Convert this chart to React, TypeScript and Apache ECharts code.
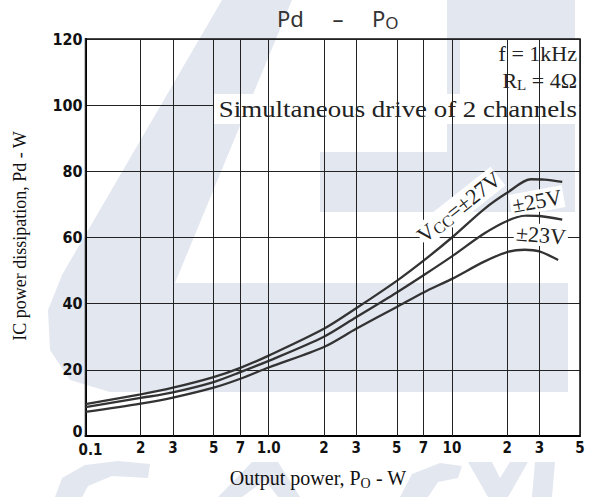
import React, { useEffect, useRef } from "react";
import * as echarts from "echarts";

// ---- data ----
const X_MIN = 0.1;
const X_MAX = 50;
const Y_MIN = 0;
const Y_MAX = 120;
const Y_STEP = 20;
const X_TICKS = [0.1, 0.2, 0.3, 0.5, 0.7, 1, 2, 3, 5, 7, 10, 20, 30, 50];
const X_TICK_LABELS = ["0.1", "2", "3", "5", "7", "1.0", "2", "3", "5", "7", "10", "2", "3", "5"];

const PO_27 = [0.1, 0.2, 0.3, 0.5, 0.7, 1, 2, 3, 5, 7, 10, 15, 20, 27, 32, 40];
const PD_27 = [9.6, 12.6, 14.6, 17.8, 20.6, 24.3, 32.4, 38.6, 46.9, 53.0, 60.0, 68.6, 73.5, 77.6, 77.5, 76.8];
const PO_25 = [0.1, 0.2, 0.3, 0.5, 0.7, 1, 2, 3, 5, 7, 10, 15, 20, 25, 30, 40];
const PD_25 = [8.7, 11.5, 13.2, 16.3, 19.3, 22.7, 30.0, 35.9, 43.4, 48.6, 54.3, 61.2, 65.0, 66.6, 66.5, 65.4];
const PO_23 = [0.1, 0.2, 0.3, 0.5, 0.7, 1, 2, 3, 5, 7, 10, 15, 20, 25, 30, 38];
const PD_23 = [7.3, 9.8, 11.6, 14.6, 17.3, 20.7, 26.9, 32.4, 39.0, 43.4, 47.5, 52.7, 55.6, 56.3, 55.8, 53.2];

const zip = (xs: number[], ys: number[]) => xs.map((x, i) => [x, ys[i]]);

const WM = "#e3e7f0";
const SERIF = "'Liberation Serif', 'Times New Roman', serif";
const LBL = "'DejaVu Sans Condensed', 'Liberation Sans Narrow', 'DejaVu Sans', sans-serif";

export default function App() {
  const ref = useRef<HTMLDivElement>(null);
  useEffect(() => {
    if (!ref.current) return;
    const chart = echarts.init(ref.current, undefined, { renderer: "svg" });
    const curve = (name: string, xs: number[], ys: number[]) => ({
      name,
      type: "line",
      data: zip(xs, ys),
      smooth: 0.3,
      symbol: "none",
      z: 3,
      lineStyle: { color: "#333", width: 2.3 },
    });
    chart.setOption({
      animation: false,
      backgroundColor: "#fff",
      grid: { left: 85.5, right: 9, top: 39, bottom: 61, show: true, borderColor: "#111", borderWidth: 1.5 },
      xAxis: {
        type: "log",
        logBase: 10,
        min: X_MIN,
        max: X_MAX,
        axisLabel: { show: false },
        axisTick: { show: false },
        splitLine: { show: false },
        axisLine: { show: true, lineStyle: { color: "#000", width: 2 } },
      },
      yAxis: {
        type: "value",
        min: Y_MIN,
        max: Y_MAX,
        interval: Y_STEP,
        axisLabel: {
          fontFamily: LBL,
          fontWeight: "bold",
          fontSize: 16,
          color: "#111",
          margin: 3,
          formatter: (v: number) => (v === 0 ? "{z|0}" : String(v)),
          rich: { z: { fontFamily: LBL, fontWeight: "bold", fontSize: 16, color: "#111", padding: [0, 0, 9, 0] } },
        },
        axisTick: { show: false },
        axisLine: { show: true, lineStyle: { color: "#000", width: 2 } },
        splitLine: { lineStyle: { color: "#222", width: 1 } },
      },
      series: [
        {
          type: "line",
          data: [],
          z: 1,
          markLine: {
            silent: true,
            symbol: "none",
            lineStyle: { type: "solid", color: "#222", width: 1 },
            label: {
              show: true,
              position: "start",
              formatter: "{b}",
              distance: 4,
              fontFamily: LBL,
              fontWeight: "bold",
              fontSize: 15,
              color: "#111",
            },
            data: X_TICKS.map((v, i) =>
              i === 0
                ? { xAxis: v, name: X_TICK_LABELS[i], label: { offset: [5, 2] } }
                : { xAxis: v, name: X_TICK_LABELS[i] }
            ),
          },
        },
        curve("±27V", PO_27, PD_27),
        curve("±25V", PO_25, PD_25),
        curve("±23V", PO_23, PD_23),
      ],
      graphic: [
        // watermark
        { type: "polygon", z: -5, silent: true, shape: { points: [[222, 0], [292, 0], [175, 283], [568, 283], [568, 392], [110, 392], [70, 380], [50, 350], [48, 310], [62, 275]] }, style: { fill: WM } },
        { type: "polygon", z: -5, silent: true, shape: { points: [[447, 0], [575, 0], [575, 212], [320, 212], [320, 152], [447, 152]] }, style: { fill: WM } },
        { type: "polygon", z: -5, silent: true, shape: { points: [[55, 497], [62, 478], [85, 465], [118, 461], [150, 464], [148, 478], [112, 476], [88, 486], [82, 497]] }, style: { fill: WM } },
        { type: "polygon", z: -5, silent: true, shape: { points: [[218, 497], [252, 462], [278, 462], [300, 497], [278, 497], [265, 480], [242, 497]] }, style: { fill: WM } },
        { type: "polygon", z: -5, silent: true, shape: { points: [[400, 497], [412, 474], [440, 463], [462, 466], [458, 478], [438, 482], [428, 497]] }, style: { fill: WM } },
        { type: "polygon", z: -5, silent: true, shape: { points: [[468, 462], [492, 462], [500, 478], [510, 462], [528, 462], [508, 497], [488, 497]] }, style: { fill: WM } },
        { type: "polygon", z: -5, silent: true, shape: { points: [[535, 462], [555, 462], [552, 497], [532, 497]] }, style: { fill: WM } },
        // title
        {
          type: "text", z: 6, x: 277, y: 18,
          style: { text: "Pd     –     P{s|O}", font: "22px 'Noto Sans', sans-serif", fill: "#333", verticalAlign: "middle", rich: { s: { fontSize: 17, fontFamily: "'Noto Sans', sans-serif", padding: [9, 0, 0, 0], fill: "#333" } } },
        },
        // axis titles
        {
          type: "text", z: 6, x: 318, y: 478,
          style: { text: "Output power, P{s|O} - W", font: `20px ${SERIF}`, fill: "#111", align: "center", verticalAlign: "middle", rich: { s: { fontSize: 14, fontFamily: SERIF, padding: [10, 0, 0, 0], fill: "#111" } } },
        },
        {
          type: "text", z: 6, x: 20, y: 236, rotation: Math.PI / 2,
          style: { text: "IC power dissipation, Pd - W", font: `18px ${SERIF}`, fill: "#111", align: "center", verticalAlign: "middle" },
        },
        // boxes behind conditions
        { type: "rect", z: 4, silent: true, shape: { x: 460, y: 40, width: 119, height: 54 }, style: { fill: "#fff" } },
        { type: "rect", z: 4, silent: true, shape: { x: 214, y: 94, width: 365, height: 30 }, style: { fill: "#fff" } },
        {
          type: "text", z: 6, x: 577, y: 53,
          style: { text: "f = 1kHz", font: `22px ${SERIF}`, fill: "#222", align: "right", verticalAlign: "middle" },
        },
        {
          type: "text", z: 6, x: 577, y: 80,
          style: { text: "R{s|L} = 4Ω", font: `22px ${SERIF}`, fill: "#222", align: "right", verticalAlign: "middle", rich: { s: { fontSize: 15, fontFamily: SERIF, padding: [9, 0, 0, 0], fill: "#222" } } },
        },
        {
          type: "text", z: 6, x: 577, y: 109, scaleX: 1.12,
          style: { text: "Simultaneous drive of 2 channels", font: `24px ${SERIF}`, fill: "#222", align: "right", verticalAlign: "middle" },
        },
        // curve labels
        {
          type: "text", z: 6, x: 459, y: 207, rotation: 0.67,
          style: { text: "V{s|CC}=±27V", font: `22px ${SERIF}`, fill: "#222", align: "center", verticalAlign: "middle", backgroundColor: "#fff", rich: { s: { fontSize: 16, fontFamily: SERIF, padding: [8, 0, 0, 0], fill: "#222" } } },
        },
        {
          type: "text", z: 6, x: 537, y: 201, rotation: 0.18,
          style: { text: "±25V", font: `22px ${SERIF}`, fill: "#222", align: "center", verticalAlign: "middle", backgroundColor: "#fff", padding: [0, 2] },
        },
        {
          type: "text", z: 6, x: 541, y: 235, rotation: -0.08,
          style: { text: "±23V", font: `22px ${SERIF}`, fill: "#222", align: "center", verticalAlign: "middle", backgroundColor: "#fff", padding: [0, 2] },
        },
      ],
    });
    return () => chart.dispose();
  }, []);
  return (
    <div
      ref={ref}
      style={{ position: "fixed", left: 0, top: 0, width: 589, height: 497, background: "#fff" }}
    />
  );
}
